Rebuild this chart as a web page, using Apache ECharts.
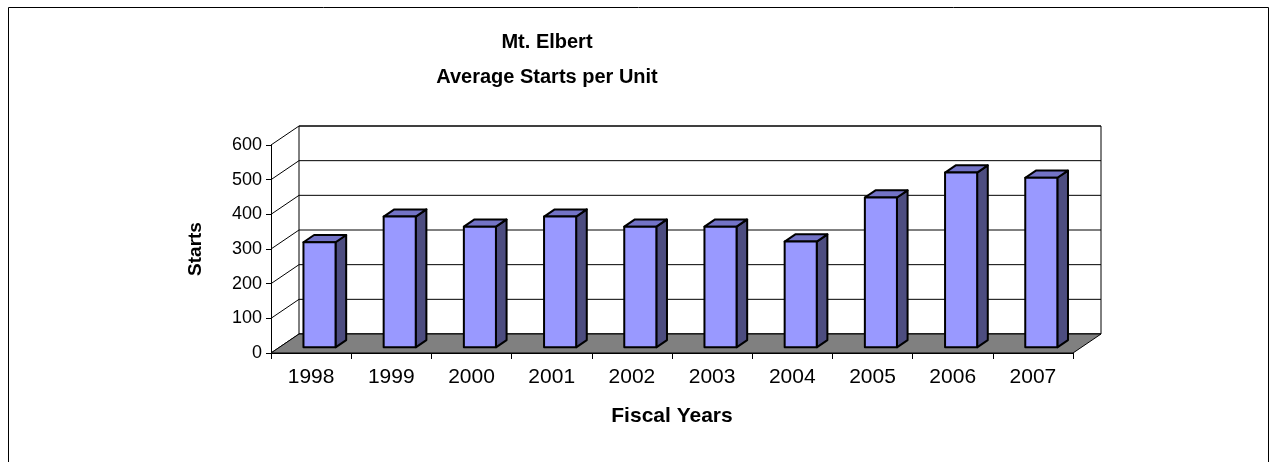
<!DOCTYPE html>
<html>
<head>
<meta charset="utf-8">
<script src="https://cdn.jsdelivr.net/npm/echarts@6/dist/echarts.min.js"></script>
<style>
  html, body { margin: 0; padding: 0; background: #fff; }
  #chart { width: 1273px; height: 462px; }
</style>
</head>
<body>
<div id="chart"></div>
<script>
// data
const years = ['1998', '1999', '2000', '2001', '2002', '2003', '2004', '2005', '2006', '2007']
const starts = [303, 377, 348, 377, 348, 348, 305, 432, 504, 489]
const yTicks = [0, 100, 200, 300, 400, 500, 600]

const FONT = 'Liberation Sans, Arial, sans-serif'
const DEPTH = [28, -19] // oblique depth of the floor
const BAR_FRONT = 0.3 // bar front plane as fraction of depth
const BAR_BACK = 0.68
const BAR_WIDTH = 0.4 // share of a category

const chart = echarts.init(document.getElementById('chart'))

// back wall, floor, side lines
function renderFrame(params, api) {
  const cs = params.coordSys
  const x0 = cs.x
  const x1 = cs.x + cs.width
  const yb = api.coord([0, 0])[1]
  const yt = api.coord([0, 600])[1]
  const dx = DEPTH[0]
  const dy = DEPTH[1]
  const line = { stroke: '#000', lineWidth: 1 }
  const children = []
  // back wall
  children.push({
    type: 'rect',
    shape: { x: x0 + dx, y: yt + dy, width: x1 - x0, height: yb - yt },
    style: { fill: '#fff', stroke: '#000', lineWidth: 1 }
  })
  yTicks.forEach(v => {
    const y = api.coord([0, v])[1]
    children.push({
      type: 'line',
      shape: { x1: x0 + dx, y1: y + dy, x2: x1 + dx, y2: y + dy },
      style: line
    })
    children.push({
      type: 'line',
      shape: { x1: x0, y1: y, x2: x0 + dx, y2: y + dy },
      style: line
    })
  })
  // floor
  children.push({
    type: 'polygon',
    shape: { points: [[x0, yb], [x1, yb], [x1 + dx, yb + dy], [x0 + dx, yb + dy]] },
    style: { fill: '#808080', stroke: '#000', lineWidth: 1 }
  })
  return { type: 'group', children }
}

// one 3d column
function renderBar(params, api) {
  const i = api.value(0)
  const base = api.coord([i, 0])
  const top = api.coord([i, api.value(1)])
  const band = api.size([1, 0])[0]
  const w = band * BAR_WIDTH
  const fx = DEPTH[0] * BAR_FRONT
  const fy = DEPTH[1] * BAR_FRONT
  const ddx = DEPTH[0] * (BAR_BACK - BAR_FRONT)
  const ddy = DEPTH[1] * (BAR_BACK - BAR_FRONT)
  const l = base[0] + fx - w / 2
  const r = l + w
  const t = top[1] + fy
  const b = base[1] + fy
  const edge = { stroke: '#000', lineWidth: 2, lineJoin: 'round' }
  return {
    type: 'group',
    children: [
      {
        type: 'polygon',
        shape: { points: [[r, t], [r + ddx, t + ddy], [r + ddx, b + ddy], [r, b]] },
        style: { fill: '#4D4D80', ...edge }
      },
      {
        type: 'polygon',
        shape: { points: [[l, t], [r, t], [r + ddx, t + ddy], [l + ddx, t + ddy]] },
        style: { fill: '#7373C6', ...edge }
      },
      {
        type: 'rect',
        shape: { x: l, y: t, width: w, height: b - t },
        style: { fill: '#9999FF', ...edge }
      }
    ]
  }
}

const option = {
  backgroundColor: '#fff',
  animation: false,
  title: {
    text: 'Mt. Elbert\nAverage Starts per Unit',
    left: 542,
    textAlign: 'center',
    top: 20,
    textStyle: {
      fontFamily: FONT,
      fontSize: 20,
      fontWeight: 'bold',
      color: '#000',
      lineHeight: 35
    }
  },
  graphic: [
    {
      type: 'rect',
      left: 6,
      top: 5,
      shape: { width: 1260, height: 470 },
      style: { fill: 'none', stroke: '#000', lineWidth: 1 },
      silent: true
    }
  ],
  grid: {
    left: 271,
    top: 145,
    width: 802,
    height: 208
  },
  xAxis: {
    type: 'category',
    data: years,
    boundaryGap: true,
    name: 'Fiscal Years',
    nameLocation: 'middle',
    nameGap: 53,
    nameTextStyle: { fontFamily: FONT, fontSize: 21, fontWeight: 'bold', color: '#000' },
    axisLine: { lineStyle: { color: '#000', width: 1 } },
    axisTick: { show: true, length: 6, alignWithLabel: false, lineStyle: { color: '#000' } },
    axisLabel: { fontFamily: FONT, fontSize: 21, color: '#000', margin: 14 },
    splitLine: { show: false }
  },
  yAxis: {
    type: 'value',
    min: 0,
    max: 600,
    interval: 100,
    name: 'Starts',
    nameLocation: 'middle',
    nameGap: 66,
    nameRotate: 90,
    nameTextStyle: { fontFamily: FONT, fontSize: 19, fontWeight: 'bold', color: '#000' },
    axisLine: { show: true, lineStyle: { color: '#000', width: 1 } },
    axisTick: { show: true, length: 5, lineStyle: { color: '#000' } },
    axisLabel: { fontFamily: FONT, fontSize: 18, color: '#000', margin: 9 },
    splitLine: { show: false }
  },
  series: [
    {
      type: 'custom',
      name: 'frame',
      z: 1,
      silent: true,
      renderItem: renderFrame,
      data: [[0, 0]]
    },
    {
      type: 'custom',
      name: 'Starts',
      z: 2,
      renderItem: renderBar,
      encode: { x: 0, y: 1 },
      data: starts.map((v, i) => [i, v])
    }
  ]
}

chart.setOption(option)
</script>
</body>
</html>
